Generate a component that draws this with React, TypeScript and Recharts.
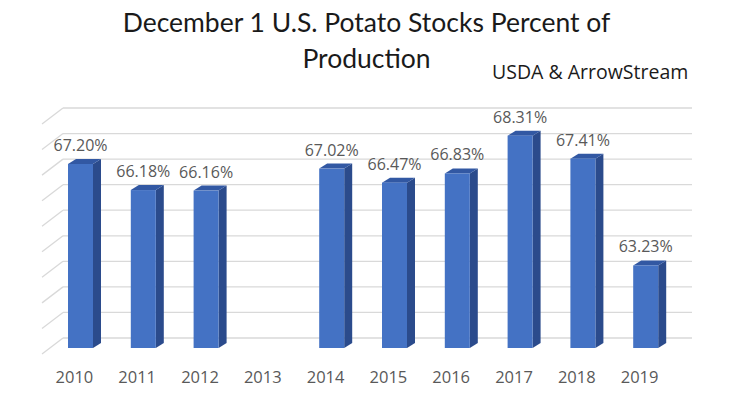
import React from 'react';
import { BarChart, Bar, XAxis, YAxis, CartesianGrid, LabelList } from 'recharts';

const years = ['2010', '2011', '2012', '2013', '2014', '2015', '2016', '2017', '2018', '2019'];
const stocksPct: (number | null)[] = [67.2, 66.18, 66.16, null, 67.02, 66.47, 66.83, 68.31, 67.41, 63.23];
const yTicks = [60, 61, 62, 63, 64, 65, 66, 67, 68, 69];

const data = years.map((y, i) => ({ year: y, pct: stocksPct[i] }));

const DEPTH_X = 8;
const DEPTH_Y = 5;

const Bar3D = (props: any) => {
  const { x, y, width, height } = props;
  if (height == null || height <= 0 || isNaN(y)) return null;
  const b = y + height;
  return (
    <g>
      <polygon
        points={`${x + width},${y} ${x + width + DEPTH_X},${y - DEPTH_Y} ${x + width + DEPTH_X},${b - DEPTH_Y} ${x + width},${b}`}
        fill="#2B4B8C"
      />
      <polygon
        points={`${x},${y} ${x + width},${y} ${x + width + DEPTH_X},${y - DEPTH_Y} ${x + DEPTH_X},${y - DEPTH_Y}`}
        fill="#3258A3"
      />
      <rect x={x} y={y} width={width} height={height} fill="#4472C4" />
    </g>
  );
};

const WallLine = (props: any) => {
  const { x1, x2, y1, index } = props;
  const by = y1 - 10;
  return (
    <g key={`wl-${index}`}>
      <line x1={x1 + 14} y1={by} x2={x2 + 15} y2={by} stroke="#D9D9D9" strokeWidth={1.3} />
      <line x1={x1 - 7} y1={by + 16} x2={x1 + 14} y2={by} stroke="#D9D9D9" strokeWidth={1.3} />
    </g>
  );
};

export default function App() {
  return (
    <div style={{ position: 'absolute', left: 0, top: 0, width: 737, height: 399, background: '#fff' }}>
      <div
        style={{
          position: 'absolute', left: 0, width: 733, top: 4, textAlign: 'center',
          fontFamily: 'Lato, "Liberation Sans", sans-serif', fontSize: 26.5, lineHeight: '36px', color: '#1a1a1a',
        }}
      >
        <div>December 1 U.S. Potato Stocks Percent of</div>
        <div>Production</div>
      </div>
      <div
        style={{
          position: 'absolute', left: 492, top: 58, fontFamily: '"Open Sans", sans-serif',
          fontSize: 19.5, color: '#1a1a1a', whiteSpace: 'nowrap', lineHeight: '28px',
        }}
      >
        USDA &amp; ArrowStream
      </div>
      <BarChart
        width={737}
        height={399}
        data={data}
        margin={{ top: 118, right: 60, bottom: 21, left: 49 }}
        style={{ position: 'absolute', left: 0, top: 0 }}
      >
        <CartesianGrid vertical={false} horizontal={(p: any) => <WallLine {...p} />} />
        <YAxis hide domain={[60, 69]} ticks={yTicks} type="number" allowDataOverflow />
        <XAxis
          dataKey="year"
          axisLine={false}
          tickLine={false}
          height={30}
          tickMargin={17}
          dx={-6}
          tick={{ fill: '#595959', fontSize: 16.5, fontFamily: '"Open Sans", sans-serif' }}
          interval={0}
        />
        <Bar dataKey="pct" barSize={25} shape={Bar3D} isAnimationActive={false}>
          <LabelList
            dataKey="pct"
            position="top"
            offset={13}
            formatter={(v: any) => (v == null ? '' : `${Number(v).toFixed(2)}%`)}
            style={{ fill: '#595959', fontSize: 16, fontFamily: '"Open Sans", sans-serif' }}
          />
        </Bar>
      </BarChart>
    </div>
  );
}
